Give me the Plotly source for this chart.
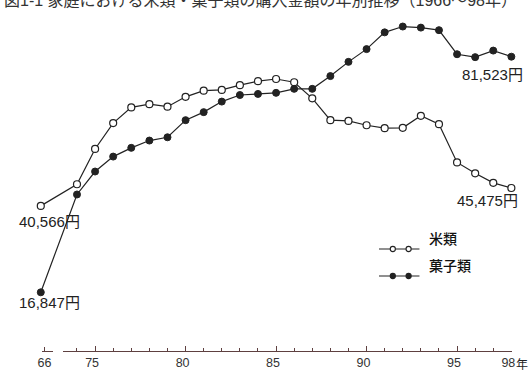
import plotly.graph_objects as go

# ---- data ----
years = [1966, 1974, 1975, 1976, 1977, 1978, 1979, 1980, 1981, 1982, 1983, 1984,
         1985, 1986, 1987, 1988, 1989, 1990, 1991, 1992, 1993, 1994, 1995, 1996,
         1997, 1998]
rice = [40566, 46500, 56200, 63300, 67600, 68500, 67800, 70500, 72200, 72400,
        73700, 74800, 75400, 74500, 70100, 64100, 63900, 62700, 61900, 62000,
        65300, 63000, 52500, 49500, 46900, 45475]
sweets = [16847, 43700, 50000, 54100, 56500, 58500, 59400, 64100, 66300, 69200,
          71000, 71300, 71600, 72700, 72700, 76200, 80100, 83600, 88200, 89800,
          89500, 88800, 82200, 81400, 83200, 81523]
series_names = ["米類", "菓子類"]
tick_vals = [75, 80, 85, 90, 95, 98]
tick_text = ["75", "80", "85", "90", "95", "98"]
break_label = "66"
title_text = "図1‑1 家庭における米類・菓子類の購入金額の年別推移（1966～98年）"

# ---- layout constants ----
W, H = 532, 379
PLOT_BOTTOM = 351
PXY = 18.34            # pixels per year
X75 = 92.3             # pixel position of 1975
BREAK_POS = 72         # axis position used for 1966 (broken axis)
X0 = 75 - X75 / PXY
X1 = X0 + W / PXY
Y_RANGE = [734, 97083]

def xpos(y):
    return y - 1900 if y >= 1974 else BREAK_POS

xp = [xpos(y) for y in years]

def px_to_x(px):
    return X0 + px / PXY

def paper_x(px):
    return px / W

def paper_y(py):
    return (PLOT_BOTTOM - py) / PLOT_BOTTOM

FONT = "Liberation Sans, Noto Sans CJK JP, sans-serif"
INK = "#222222"
AXIS_C = "#5e4040"
CLEAR = "rgba(0,0,0,0)"

fig = go.Figure()
# empty traces so the tick axes get drawn (added first, so drawn underneath)
for ax in ["x2", "x3"]:
    fig.add_trace(go.Scatter(x=[], y=[], xaxis=ax, yaxis="y",
                             showlegend=False, hoverinfo="skip"))
fig.add_trace(go.Scatter(
    x=xp, y=rice, mode="lines+markers", name=series_names[0],
    line=dict(color=INK, width=1.2),
    marker=dict(symbol="circle", size=7, color="white",
                line=dict(color=INK, width=1.2)),
    showlegend=False, hoverinfo="x+y", cliponaxis=False))
fig.add_trace(go.Scatter(
    x=xp, y=sweets, mode="lines+markers", name=series_names[1],
    line=dict(color=INK, width=1.2),
    marker=dict(symbol="circle", size=7, color=INK,
                line=dict(color=INK, width=1)),
    showlegend=False, hoverinfo="x+y", cliponaxis=False))

main_l, main_r = 59.3, 515.0
brk_l, brk_r = 38.0, 50.0

tick_font = dict(size=12.5, color="#333333", family=FONT)
fig.update_layout(
    width=W, height=H, autosize=False,
    margin=dict(l=0, r=0, t=0, b=H - PLOT_BOTTOM, pad=0),
    paper_bgcolor="white", plot_bgcolor=CLEAR,
    font=dict(family=FONT, color=INK),
    xaxis=dict(domain=[0, 1], range=[X0, X1], visible=False, fixedrange=True),
    yaxis=dict(domain=[0, 1], range=Y_RANGE, visible=False, fixedrange=True),
    xaxis2=dict(domain=[paper_x(main_l), paper_x(main_r)],
                range=[px_to_x(main_l), px_to_x(main_r)],
                anchor="y", showline=True, linecolor=AXIS_C, linewidth=1,
                showgrid=False, zeroline=False, fixedrange=True,
                tickmode="array", tickvals=tick_vals, ticktext=tick_text,
                ticks="inside", ticklen=5, tickwidth=1, tickcolor=AXIS_C,
                ticklabelshift=-3,
                minor=dict(dtick=1, tick0=75, ticks="inside", ticklen=3,
                           tickwidth=1, tickcolor=AXIS_C, showgrid=False),
                tickfont=tick_font),
    xaxis3=dict(domain=[paper_x(brk_l), paper_x(brk_r)],
                range=[px_to_x(brk_l), px_to_x(brk_r)],
                anchor="y", showline=True, linecolor=AXIS_C, linewidth=1,
                showgrid=False, zeroline=False, fixedrange=True,
                tickmode="array", tickvals=[px_to_x(41)], ticktext=[break_label],
                ticks="inside", ticklen=4, tickwidth=1, tickcolor=AXIS_C,
                tickfont=tick_font),
)

# value labels at the ends of the series
lab_font = dict(size=15, color=INK, family=FONT)
fig.add_annotation(x=xp[0], y=rice[0], text=f"{rice[0]:,}円", showarrow=False,
                   xshift=9, yshift=-16, font=lab_font)
fig.add_annotation(x=xp[0], y=sweets[0], text=f"{sweets[0]:,}円", showarrow=False,
                   xshift=9, yshift=-10, font=lab_font)
fig.add_annotation(x=xp[-1], y=sweets[-1], text=f"{sweets[-1]:,}円", showarrow=False,
                   xshift=-19, yshift=-18, font=lab_font)
fig.add_annotation(x=xp[-1], y=rice[-1], text=f"{rice[-1]:,}円", showarrow=False,
                   xshift=-24, yshift=-12, font=lab_font)

# "年" unit label
fig.add_annotation(xref="paper", yref="paper", x=paper_x(532), y=paper_y(373),
                   xanchor="right", text="年", showarrow=False, borderpad=0,
                   font=dict(size=12, color=INK, family=FONT))

# clipped title at the very top
fig.add_annotation(xref="paper", yref="paper", x=paper_x(-2), y=paper_y(11),
                   xanchor="left", yanchor="bottom", text=title_text, showarrow=False,
                   font=dict(size=16, color="#333333", family=FONT))

# hand-drawn legend (line with two markers)
legend_rows = [(249, "white", series_names[0]), (276, INK, series_names[1])]
for py, fill, name in legend_rows:
    fig.add_shape(type="line", xref="paper", yref="paper",
                  x0=paper_x(380), x1=paper_x(421), y0=paper_y(py), y1=paper_y(py),
                  line=dict(color=INK, width=1.2))
    for cx in (394, 410):
        r = 2.6
        fig.add_shape(type="circle", xref="paper", yref="paper",
                      x0=paper_x(cx - r), x1=paper_x(cx + r),
                      y0=paper_y(py + r), y1=paper_y(py - r),
                      fillcolor=fill, line=dict(color=INK, width=1.1))
    fig.add_annotation(xref="paper", yref="paper", x=paper_x(429), y=paper_y(py),
                       xanchor="left", text=name, showarrow=False,
                       font=dict(size=14, color="#111111", family=FONT, weight=500))

fig.write_html("out.html", config=dict(displayModeBar=False),
               post_script="document.body.style.margin='0';document.body.style.overflow='hidden';")
